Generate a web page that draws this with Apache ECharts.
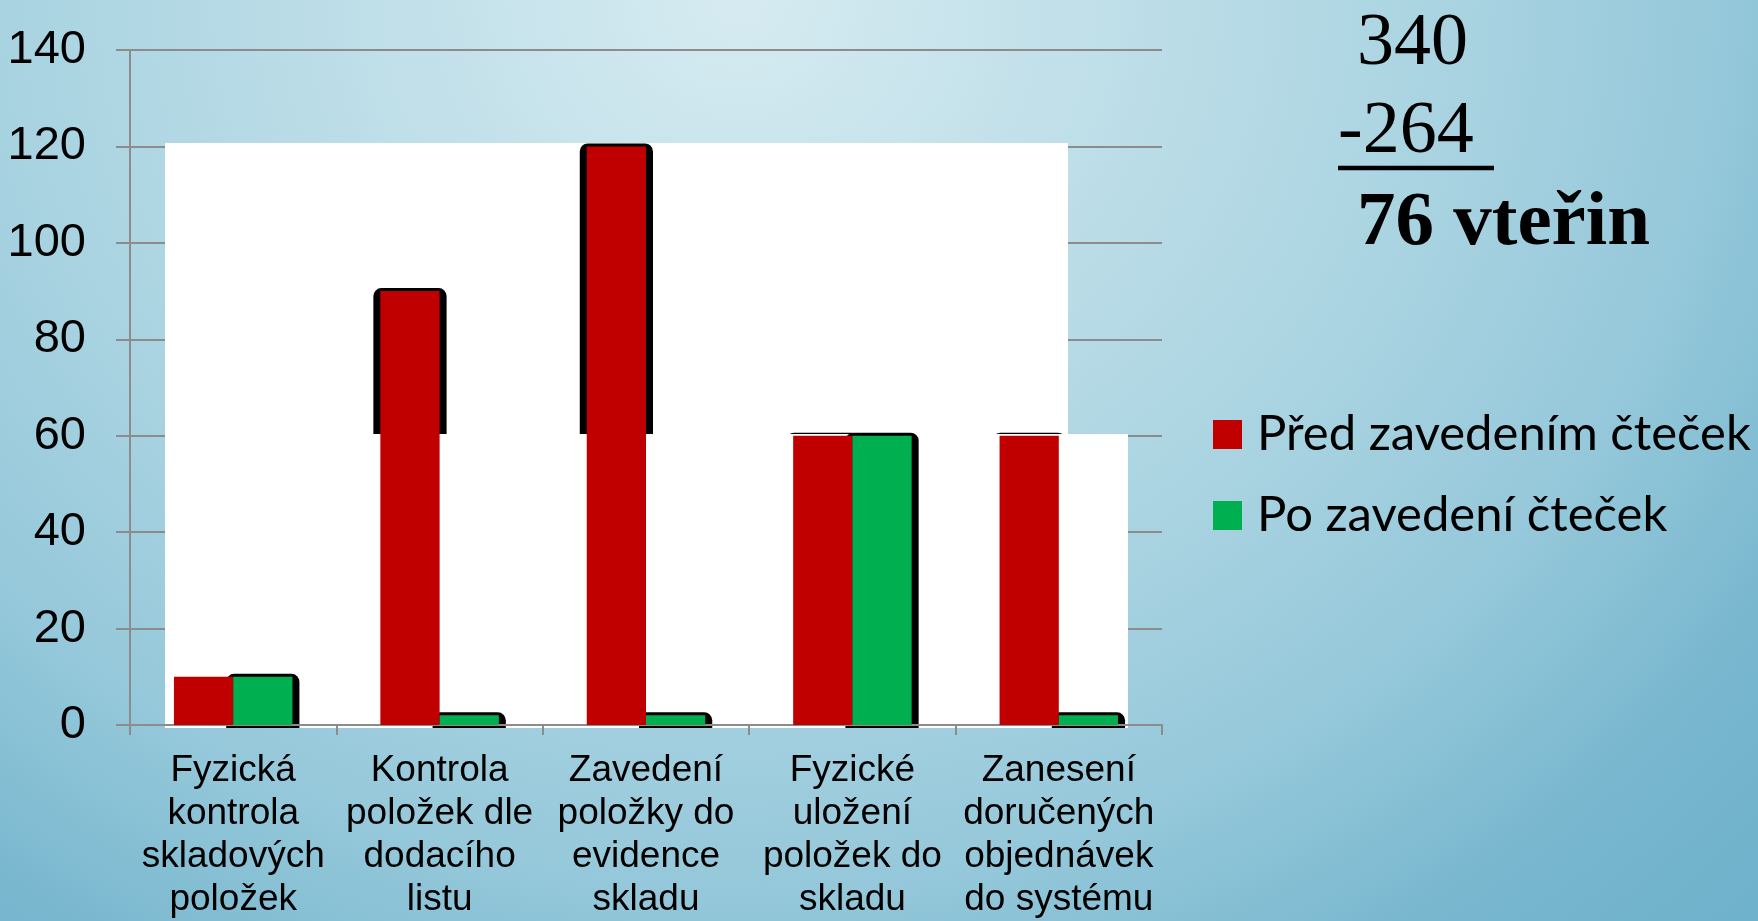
<!DOCTYPE html>
<html>
<head>
<meta charset="utf-8">
<script src="https://cdn.jsdelivr.net/npm/echarts@6/dist/echarts.min.js"></script>
<style>
html,body{margin:0;padding:0;}
#c{width:1758px;height:921px;background:radial-gradient(ellipse farthest-corner at 42% 0%, #d6ebf1 0%, #a9d3e1 50%, #95c8da 68%, #77b6ce 86%, #6fb2cb 100%);}
</style>
</head>
<body>
<div id="c"></div>
<script>
const categories = [
  'Fyzická\nkontrola\nskladových\npoložek',
  'Kontrola\npoložek dle\ndodacího\nlistu',
  'Zavedení\npoložky do\nevidence\nskladu',
  'Fyzické\nuložení\npoložek do\nskladu',
  'Zanesení\ndoručených\nobjednávek\ndo systému'
];
const seriesNames = ['Před zavedením čteček', 'Po zavedení čteček'];
const beforeValues = [10, 90, 120, 60, 60];
const afterValues = [10, 2, 2, 60, 2];
const yTicks = { min: 0, max: 140, interval: 20 };
const sumLines = ['340', '-264 ', '76 vteřin'];

const GAP = 0.426;
function backing(side) {
  return function (params, api) {
    const i = api.value(0), v = api.value(1);
    const base = api.coord([i, 0]);
    const top = api.coord([i, v]);
    const band = api.size([1, 0])[0];
    const bw = band * (1 - GAP) / 2;
    const left = side === 0 ? base[0] - bw : base[0];
    return {
      type: 'rect',
      shape: { x: left - 7, y: top[1] - 3, width: bw + 14, height: base[1] + 3 - (top[1] - 3), r: [8, 8, 0, 0] },
      style: { fill: '#000' }
    };
  };
}

const chart = echarts.init(document.getElementById('c'), null, { renderer: 'canvas' });
chart.setOption({
  backgroundColor: 'transparent',
  animation: false,
  grid: { left: 130, right: 596, top: 50, bottom: 192, containLabel: false },
  legend: {
    data: seriesNames,
    orient: 'vertical',
    left: 1213,
    top: 408,
    padding: 0,
    icon: 'rect',
    itemWidth: 29,
    itemHeight: 29,
    itemGap: 28,
    textStyle: { fontFamily: 'Lato', fontSize: 49, lineHeight: 53, color: '#000', padding: [0, 0, 0, 10] }
  },
  xAxis: {
    type: 'category',
    data: categories,
    z: 5,
    axisLine: { lineStyle: { color: '#8c8c8c', width: 2 } },
    axisTick: { show: true, length: 10, lineStyle: { color: '#8c8c8c', width: 2 } },
    axisLabel: { interval: 0, margin: 24, fontFamily: 'Liberation Sans', fontSize: 37, lineHeight: 43, color: '#000' }
  },
  yAxis: {
    type: 'value',
    min: yTicks.min, max: yTicks.max, interval: yTicks.interval,
    z: 0,
    axisLine: { show: true, lineStyle: { color: '#8c8c8c', width: 2 } },
    axisTick: { show: true, length: 14, lineStyle: { color: '#8c8c8c', width: 2 } },
    splitLine: { show: true, lineStyle: { color: '#8c8c8c', width: 2 } },
    axisLabel: { margin: 44, fontFamily: 'Liberation Sans', fontSize: 47, color: '#000' }
  },
  graphic: [
    { type: 'rect', z: 1, silent: true, shape: { x: 165, y: 143, width: 903, height: 292 }, style: { fill: '#fff' } },
    { type: 'rect', z: 3, silent: true, shape: { x: 165, y: 434, width: 963, height: 294 }, style: { fill: '#fff' } },
    { type: 'text', z: 10, x: 1357, y: 45, style: { text: sumLines[0], font: '74px "Liberation Serif"', fill: '#000', verticalAlign: 'middle' } },
    { type: 'text', z: 10, x: 1338, y: 133, style: { text: sumLines[1], font: '74px "Liberation Serif"', fill: '#000', verticalAlign: 'middle' } },
    { type: 'line', z: 10, shape: { x1: 1338, y1: 168, x2: 1494, y2: 168 }, style: { stroke: '#000', lineWidth: 4.5 } },
    { type: 'text', z: 10, x: 1357, y: 224, style: { text: sumLines[2], font: 'bold 77px "Liberation Serif"', fill: '#000', verticalAlign: 'middle' } }
  ],
  series: [
    { type: 'custom', name: 'bk0', z: 2, renderItem: backing(0), encode: { x: 0, y: 1 }, data: beforeValues.map((v, i) => [i, v]), silent: true },
    { type: 'custom', name: 'bk1', z: 4, renderItem: backing(1), encode: { x: 0, y: 1 }, data: afterValues.map((v, i) => [i, v]), silent: true },
    { type: 'bar', name: seriesNames[0], z: 6, data: beforeValues, barGap: '0%', barCategoryGap: (GAP * 100) + '%', itemStyle: { color: '#c00000' } },
    { type: 'bar', name: seriesNames[1], z: 6, data: afterValues, barGap: '0%', barCategoryGap: (GAP * 100) + '%', itemStyle: { color: '#00b050' } }
  ]
});
</script>
</body>
</html>
